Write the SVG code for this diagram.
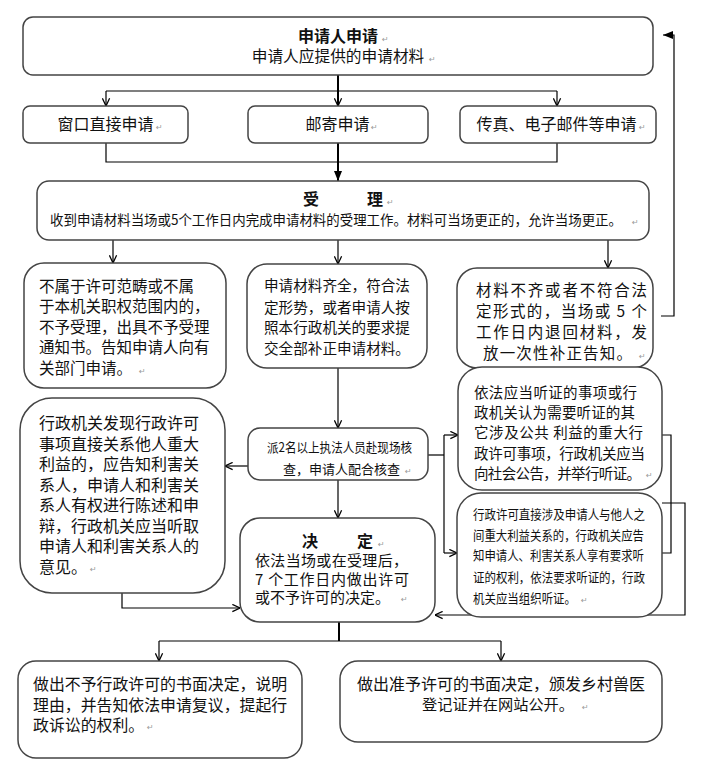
<svg xmlns="http://www.w3.org/2000/svg" width="710" height="768" viewBox="0 0 710 768">
<defs>
<style>
.box{fill:#fff;stroke:#444;stroke-width:1.5}
.t{font-family:"Noto Sans CJK SC","Liberation Sans",sans-serif;fill:#111}
.b{font-weight:bold}
.pm{font-family:"DejaVu Sans",sans-serif;font-size:8px;fill:#999}
.ln{fill:none;stroke:#000;stroke-width:1.2}
.thk{fill:none;stroke:#000;stroke-width:2}
</style>
<marker id="av" viewBox="0 0 10 10" refX="9.5" refY="5" markerWidth="9" markerHeight="9" markerUnits="userSpaceOnUse" orient="auto"><path d="M1,1 L9.5,5 L1,9" fill="none" stroke="#000" stroke-width="1.4"/></marker>
<marker id="af" viewBox="0 0 10 10" refX="10" refY="5" markerWidth="10" markerHeight="10" markerUnits="userSpaceOnUse" orient="auto"><path d="M0,1 L10,5 L0,9 z" fill="#000"/></marker>
</defs>
<rect width="710" height="768" fill="#fff"/>

<g id="connectors">
<path class="thk" d="M338,75 V106" marker-end="url(#av)"/>
<path class="ln" d="M106,91 H557"/>
<path class="ln" d="M106,91 V106" marker-end="url(#av)"/>
<path class="ln" d="M557,91 V106" marker-end="url(#av)"/>
<path class="ln" d="M106,143 V162 H557 V143"/>
<path class="thk" d="M338,143 V181" marker-end="url(#af)"/>
<path class="ln" d="M113,240 V263" marker-end="url(#av)"/>
<path class="ln" d="M338,240 V264" marker-end="url(#av)"/>
<path class="ln" d="M608,240 V268" marker-end="url(#av)"/>
<path class="ln" d="M661,316 H674 V35 H663" marker-end="url(#af)"/>
<path class="ln" d="M338,368 V428" marker-end="url(#av)"/>
<path class="ln" d="M248,466 H225" marker-end="url(#av)"/>
<path class="ln" d="M428,455 H444"/>
<path class="ln" d="M444,435 V553"/>
<path class="ln" d="M444,435 H458" marker-end="url(#av)"/>
<path class="ln" d="M444,553 H457" marker-end="url(#av)"/>
<path class="ln" d="M338,480 V518" marker-end="url(#av)"/>
<path class="ln" d="M122,593 V608 H240" marker-end="url(#av)"/>
<path class="ln" d="M662,435 H671 V553 H662"/>
<path class="ln" d="M662,503 H685 V615 H435" marker-end="url(#av)"/>
<path class="thk" d="M339,622 V641"/>
<path class="ln" d="M159,641 H501"/>
<path class="ln" d="M159,641 V661" marker-end="url(#av)"/>
<path class="ln" d="M501,641 V661" marker-end="url(#av)"/>
</g>

<g id="n-apply">
<rect class="box" x="23" y="17" width="630" height="58" rx="10"/>
<text class="t b" x="338" y="42" font-size="16" text-anchor="middle">申请人申请</text>
<text class="pm" x="382" y="42">↵</text>
<text class="t" x="338" y="62" font-size="15.7" text-anchor="middle">申请人应提供的申请材料</text>
<text class="pm" x="429" y="62">↵</text>
</g>

<g id="n-window">
<rect class="box" x="23" y="106" width="165" height="37" rx="7"/>
<text class="t" x="105.5" y="130" font-size="16" text-anchor="middle">窗口直接申请</text>
<text class="pm" x="156" y="130">↵</text>
</g>

<g id="n-mail">
<rect class="box" x="248" y="106" width="180" height="37" rx="7"/>
<text class="t" x="337.5" y="130" font-size="16" text-anchor="middle">邮寄申请</text>
<text class="pm" x="371" y="130">↵</text>
</g>

<g id="n-fax">
<rect class="box" x="460" y="106" width="196" height="37" rx="7"/>
<text class="t" x="556.5" y="130" font-size="16" text-anchor="middle">传真、电子邮件等申请</text>
<text class="pm" x="639" y="130">↵</text>
</g>

<g id="n-accept">
<rect class="box" x="37" y="181" width="612" height="59" rx="12"/>
<text class="t b" y="205" font-size="16"><tspan x="303">受</tspan><tspan x="367">理</tspan></text>
<text class="pm" x="387" y="205">↵</text>
<text class="t" x="50" y="225" font-size="14" textLength="572" lengthAdjust="spacingAndGlyphs">收到申请材料当场或5个工作日内完成申请材料的受理工作。材料可当场更正的，允许当场更正。</text>
<text class="pm" x="632" y="225">↵</text>
</g>

<g id="n-reject">
<rect class="box" x="24" y="263" width="202" height="125" rx="20"/>
<text class="t" font-size="15.5">
<tspan x="39" y="292">不属于许可范畴或不属</tspan>
<tspan x="39" y="312">于本机关职权范围内的，</tspan>
<tspan x="39" y="333">不予受理，出具不予受理</tspan>
<tspan x="39" y="353">通知书。告知申请人向有</tspan>
<tspan x="39" y="374">关部门申请。</tspan>
</text>
<text class="pm" x="139" y="374">↵</text>
</g>

<g id="n-complete">
<rect class="box" x="247" y="264" width="180" height="104" rx="20"/>
<text class="t" font-size="14.6">
<tspan x="264" y="290.5">申请材料齐全，符合法</tspan>
<tspan x="264" y="312.5">定形势，或者申请人按</tspan>
<tspan x="264" y="332.5">照本行政机关的要求提</tspan>
<tspan x="264" y="353.5">交全部补正申请材料。</tspan>
</text>
</g>

<g id="n-incomplete">
<rect class="box" x="457" y="268" width="196" height="100" rx="20"/>
<text class="t" x="476" y="296" font-size="15.5" textLength="171">材料不齐或者不符合法</text>
<text class="t" x="476" y="317" font-size="15.5" textLength="171">定形式的，当场或 5 个</text>
<text class="t" x="476" y="338" font-size="15.5" textLength="171">工作日内退回材料，发</text>
<text class="t" x="483" y="359" font-size="15.5" textLength="149">放一次性补正告知。</text>
<text class="pm" x="639" y="359">↵</text>
</g>

<g id="n-interest">
<rect class="box" x="20" y="398" width="205" height="195" rx="32"/>
<text class="t" font-size="16">
<tspan x="39" y="429">行政机关发现行政许可</tspan>
<tspan x="39" y="449.5">事项直接关系他人重大</tspan>
<tspan x="39" y="470">利益的，应告知利害关</tspan>
<tspan x="39" y="490.5">系人，申请人和利害关</tspan>
<tspan x="39" y="511">系人有权进行陈述和申</tspan>
<tspan x="39" y="531.5">辩，行政机关应当听取</tspan>
<tspan x="39" y="552">申请人和利害关系人的</tspan>
<tspan x="39" y="572.5">意见。</tspan>
</text>
<text class="pm" x="90" y="572">↵</text>
</g>

<g id="n-verify">
<rect class="box" x="248" y="428" width="180" height="52" rx="12"/>
<text class="t" x="267" y="452" font-size="13" textLength="145" lengthAdjust="spacingAndGlyphs">派2名以上执法人员赴现场核</text>
<text class="t" x="283" y="474" font-size="13" textLength="117" lengthAdjust="spacingAndGlyphs">查，申请人配合核查</text>
<text class="pm" x="405" y="474">↵</text>
</g>

<g id="n-hearing">
<rect class="box" x="458" y="367" width="204" height="123" rx="24"/>
<text class="t" x="474" y="397.5" font-size="14.5" textLength="163">依法应当听证的事项或行</text>
<text class="t" x="474" y="417.5" font-size="14.5" textLength="161">政机关认为需要听证的其</text>
<text class="t" x="474" y="437.5" font-size="14.5" textLength="169">它涉及公共 利益的重大行</text>
<text class="t" x="474" y="458.5" font-size="14.5" textLength="171">政许可事项，行政机关应当</text>
<text class="t" x="474" y="478.5" font-size="14.5" textLength="167">向社会公告，并举行听证。</text>
<text class="pm" x="646" y="478">↵</text>
</g>

<g id="n-request">
<rect class="box" x="457" y="493" width="205" height="124" rx="24"/>
<text class="t" x="473" y="519" font-size="13" textLength="172" lengthAdjust="spacingAndGlyphs">行政许可直接涉及申请人与他人之</text>
<text class="t" x="473" y="540" font-size="13" textLength="171" lengthAdjust="spacingAndGlyphs">间重大利益关系的，行政机关应告</text>
<text class="t" x="473" y="560" font-size="13" textLength="171" lengthAdjust="spacingAndGlyphs">知申请人、利害关系人享有要求听</text>
<text class="t" x="473" y="582" font-size="13" textLength="172" lengthAdjust="spacingAndGlyphs">证的权利，依法要求听证的，行政</text>
<text class="t" x="473" y="603" font-size="13" textLength="103" lengthAdjust="spacingAndGlyphs">机关应当组织听证。</text>
<text class="pm" x="581" y="603">↵</text>
</g>

<g id="n-decide">
<rect class="box" x="240" y="518" width="195" height="104" rx="20"/>
<text class="t b" y="547" font-size="16"><tspan x="302">决</tspan><tspan x="357">定</tspan></text>
<text class="pm" x="378" y="547">↵</text>
<text class="t" x="255" y="565.7" font-size="15" textLength="153">依法当场或在受理后，</text>
<text class="t" x="255" y="584.7" font-size="15" textLength="154">7 个工作日内做出许可</text>
<text class="t" x="255" y="602.7" font-size="15">或不予许可的决定。</text>
<text class="pm" x="401" y="602">↵</text>
</g>

<g id="n-deny">
<rect class="box" x="18" y="661" width="284" height="97" rx="18"/>
<text class="t" font-size="15.9">
<tspan x="33" y="690">做出不予行政许可的书面决定，说明</tspan>
<tspan x="33" y="710.5">理由，并告知依法申请复议，提起行</tspan>
<tspan x="33" y="731">政诉讼的权利。</tspan>
</text>
<text class="pm" x="147" y="730">↵</text>
</g>

<g id="n-grant">
<rect class="box" x="340" y="661" width="322" height="81" rx="18"/>
<text class="t" x="501" y="690" font-size="16" text-anchor="middle">做出准予许可的书面决定，颁发乡村兽医</text>
<text class="t" x="498" y="710" font-size="15.2" text-anchor="middle">登记证并在网站公开。</text>
<text class="pm" x="582" y="710">↵</text>
</g>
</svg>
